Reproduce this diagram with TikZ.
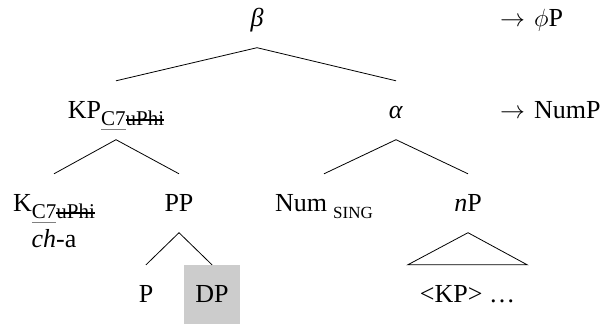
\documentclass[tikz,border=0pt]{standalone}
\usepackage{fontspec}
\setmainfont{Liberation Serif}
\newcommand{\subs}[2][21]{\raisebox{-7pt}{\fontsize{#1}{#1}\selectfont #2}}
\newcommand{\gbar}[1]{\sbox0{#1}\rlap{\textcolor{gray}{\rule[-5pt]{\wd0}{1.5pt}}}\usebox0}
\newcommand{\strk}[1]{\sbox0{#1}\rlap{\rule[4.5pt]{\wd0}{1.2pt}}\usebox0}
\newcommand{\feat}{\subs{\gbar{C7}\strk{uPhi}}}

\begin{document}
\begin{tikzpicture}[x=1pt,y=-1pt,
  lab/.style={anchor=base,inner xsep=0pt,inner ysep=20pt,text height=17pt,text depth=1.5pt,font=\fontsize{26}{31}\selectfont},
  branch/.style={line width=0.8pt}]
\useasboundingbox (0,0) rectangle (615,324);
% labels of the tree
\node[lab] (beta) at (257,26) {\textit{β}};
\node[lab] (kp) at (116,118) {KP\feat};
\node[lab] (alpha) at (396,118) {\textit{α}};
\node[lab] (k) at (54,211) {K\feat};
\node[lab] (cha) at (54,247) {\textit{ch}-a};
\node[lab] (pp) at (179,211) {PP};
\node[lab] (num) at (324,211) {Num\hspace{6pt}\subs[17]{SING}};
\node[lab] (np) at (468,211) {\textit{n}P};
\node[lab] (p) at (146,302) {P};
\node[lab,fill=gray!40,minimum width=56pt] (dp) at (212,302) {DP};
\node[lab,minimum width=119pt] (kpdots) at (467.5,302) {<KP> …};
% labels on the right
\node[lab,anchor=base west] (phip) at (500,26) {$\rightarrow$\hspace{9pt}$\phi$P};
\node[lab,anchor=base west] (nump) at (500,118) {$\rightarrow$\hspace{9pt}NumP};
% branches
\draw[branch] (kp.north) -- (beta.south) -- (alpha.north);
\draw[branch] (k.north) -- (kp.south) -- (pp.north);
\draw[branch] (num.north) -- (alpha.south) -- (np.north);
\draw[branch] (p.north) -- (pp.south) -- (dp.north);
\draw[branch] (kpdots.north west) -- (np.south) -- (kpdots.north east) -- cycle;
\end{tikzpicture}
\end{document}
